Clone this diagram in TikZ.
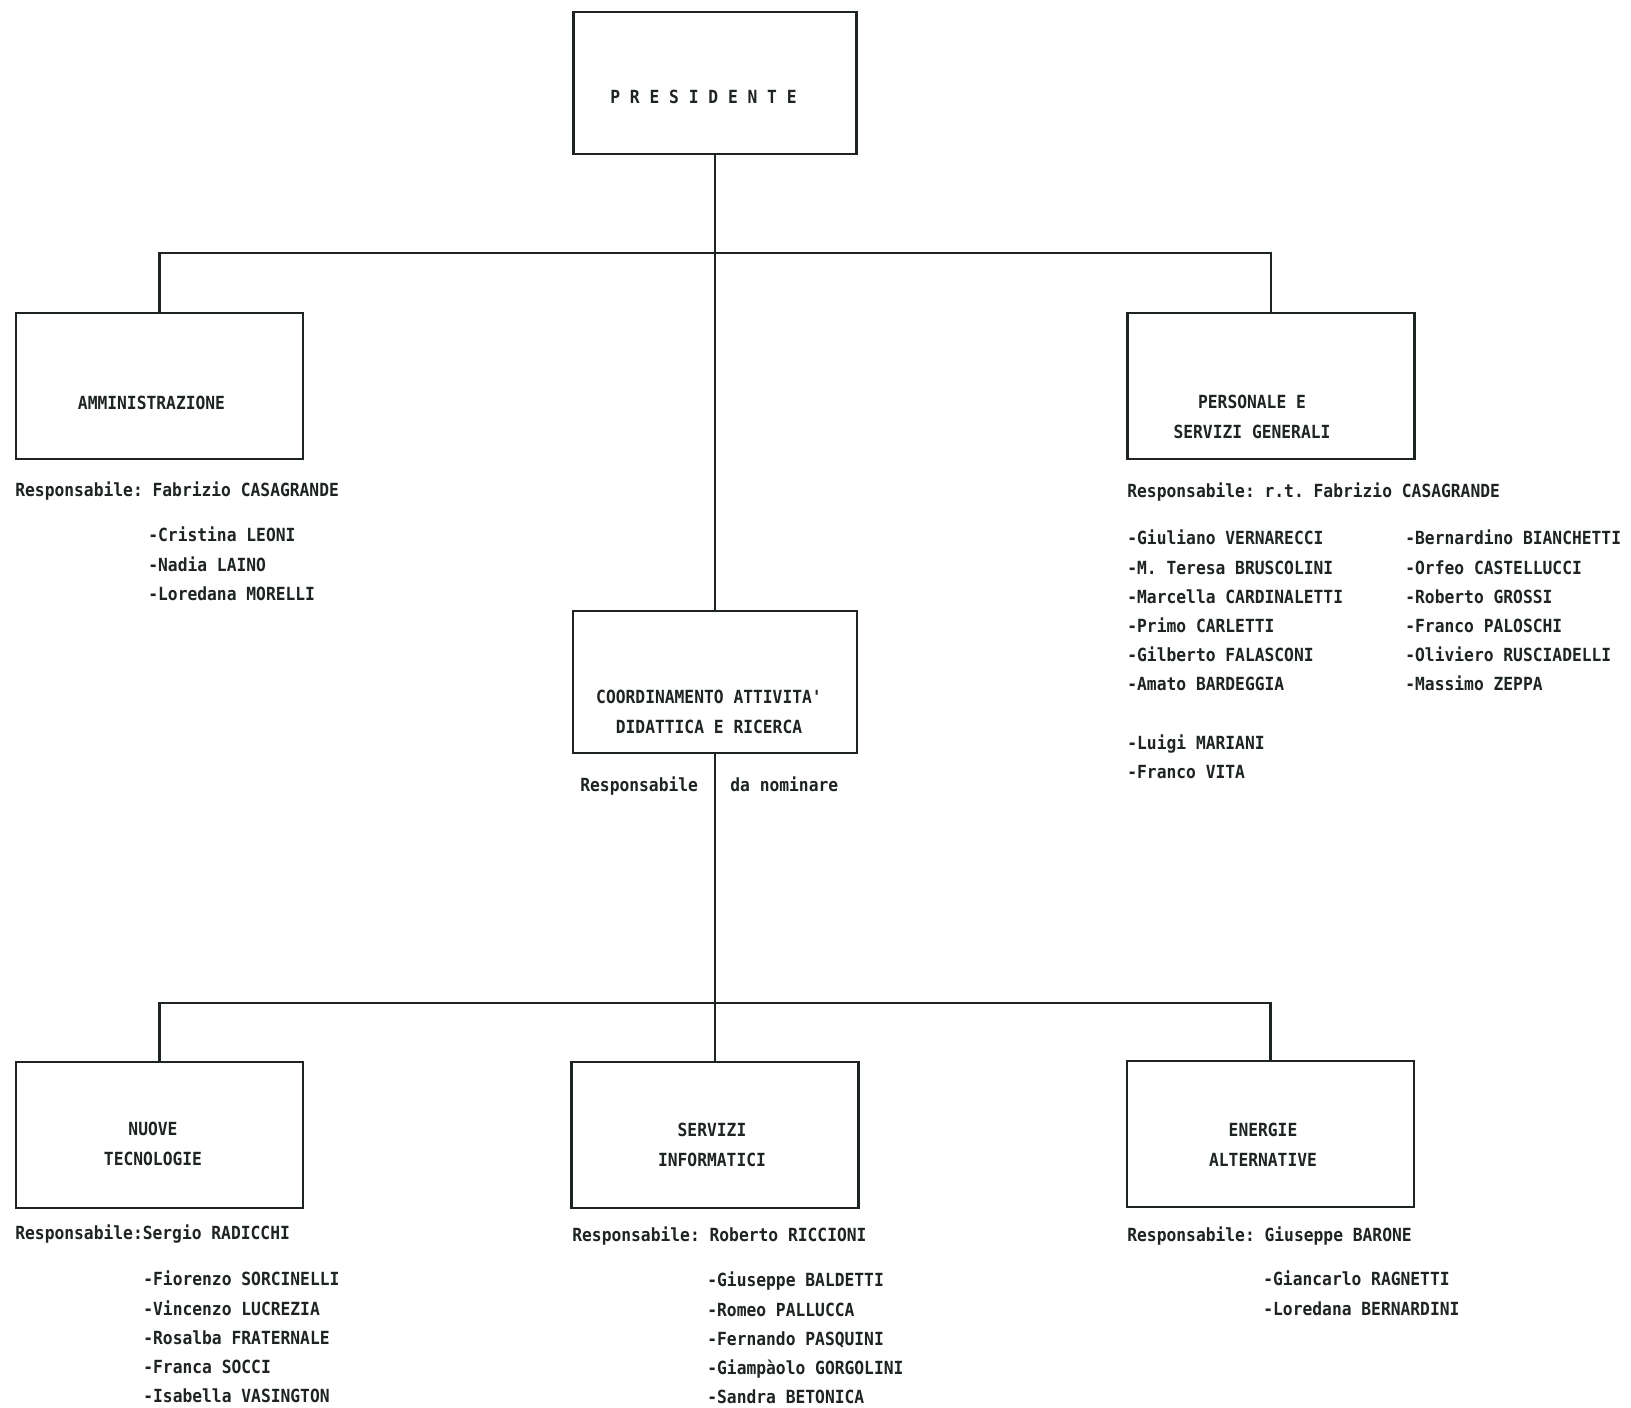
\documentclass[tikz,border=0pt]{standalone}
\usepackage{fontspec}
\setmonofont{DejaVu Sans Mono}[FakeStretch=0.9]
\usetikzlibrary{positioning}
\definecolor{typeink}{HTML}{1E2420}

\tikzset{
  unitbox/.style={draw=typeink, line width=1.6pt, minimum width=5.74cm, minimum height=2.92cm, inner sep=0pt},
  typed/.style={text=typeink, inner sep=0pt, font=\ttfamily\bfseries\fontsize{10.3}{16.6}\selectfont},
  boxtext/.style={typed, align=center, font=\ttfamily\bfseries\fontsize{10.3}{17.1}\selectfont},
  namelist/.style={typed, align=left, anchor=north west},
  resp/.style={typed, anchor=base west},
  link/.style={draw=typeink, line width=1.2pt}
}

\begin{document}
\begin{tikzpicture}[x=0.02cm, y=-0.02cm]
\useasboundingbox[fill=white] (0,0) rectangle (1631,1408);

% Presidente
\node[unitbox, minimum width=5.66cm, minimum height=2.84cm] (pres) at (715,83) {};
\node[boxtext] (pres-txt) at (703.5,97) {P R E S I D E N T E};

% Amministrazione
\node[unitbox] (amm) at (159.5,386) {};
\node[boxtext] (amm-txt) at (151.5,403) {AMMINISTRAZIONE};
\node[resp] (amm-resp) at (15,496.6) {Responsabile: Fabrizio CASAGRANDE};
\node[namelist] (amm-names) at (148,526.8) {-Cristina LEONI\\-Nadia LAINO\\-Loredana MORELLI};

% Personale e servizi generali
\node[unitbox] (pers) at (1271,386) {};
\node[boxtext] (pers-txt) at (1252,417) {PERSONALE E\\SERVIZI GENERALI};
\node[resp] (pers-resp) at (1127,498) {Responsabile: r.t. Fabrizio CASAGRANDE};
\node[namelist] (pers-namesA) at (1127,529.8) {-Giuliano VERNARECCI\\-M. Teresa BRUSCOLINI\\-Marcella CARDINALETTI\\-Primo CARLETTI\\-Gilberto FALASCONI\\-Amato BARDEGGIA\\[16.6pt]-Luigi MARIANI\\-Franco VITA};
\node[namelist] (pers-namesB) at (1405,529.8) {-Bernardino BIANCHETTI\\-Orfeo CASTELLUCCI\\-Roberto GROSSI\\-Franco PALOSCHI\\-Oliviero RUSCIADELLI\\-Massimo ZEPPA};

% Coordinamento
\node[unitbox, minimum width=5.68cm, minimum height=2.84cm] (coord) at (715,682) {};
\node[boxtext] (coord-txt) at (709,712) {COORDINAMENTO ATTIVITA'\\DIDATTICA E RICERCA};
\node[resp] (coord-resp) at (580,791.6) {Responsabile};
\node[resp] (coord-resp2) at (730,791.6) {da nominare};

% Settori
\node[unitbox] (nuove) at (159.5,1135) {};
\node[boxtext] (nuove-txt) at (153,1144) {NUOVE\\TECNOLOGIE};
\node[resp] (nuove-resp) at (15,1239.6) {Responsabile:Sergio RADICCHI};
\node[namelist] (nuove-names) at (143,1270.8) {-Fiorenzo SORCINELLI\\-Vincenzo LUCREZIA\\-Rosalba FRATERNALE\\-Franca SOCCI\\-Isabella VASINGTON};

\node[unitbox] (serv) at (715,1135) {};
\node[boxtext] (serv-txt) at (712,1145) {SERVIZI\\INFORMATICI};
\node[resp] (serv-resp) at (572,1241.6) {Responsabile: Roberto RICCIONI};
\node[namelist] (serv-names) at (707,1271.8) {-Giuseppe BALDETTI\\-Romeo PALLUCCA\\-Fernando PASQUINI\\-Giampàolo GORGOLINI\\-Sandra BETONICA};

\node[unitbox] (ener) at (1270.5,1134) {};
\node[boxtext] (ener-txt) at (1263,1145) {ENERGIE\\ALTERNATIVE};
\node[resp] (ener-resp) at (1127,1241.6) {Responsabile: Giuseppe BARONE};
\node[namelist] (ener-names) at (1263,1270.8) {-Giancarlo RAGNETTI\\-Loredana BERNARDINI};

% Collegamenti
\coordinate (topbus) at (715,253);
\coordinate (lowbus) at (715,1003);
\draw[link] (pres.south) -- (coord.north);
\draw[link] (amm.north) |- (topbus) -| (pers.north);
\draw[link] (coord.south) -- (serv.north);
\draw[link] (nuove.north) |- (lowbus) -| (ener.north);
\end{tikzpicture}
\end{document}
